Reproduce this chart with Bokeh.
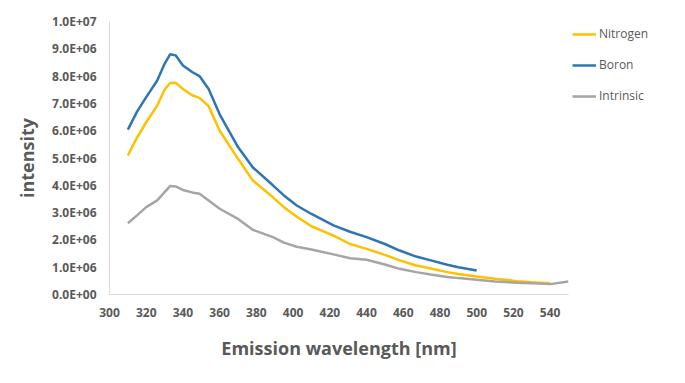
from bokeh.plotting import figure
from bokeh.models import Range1d, FixedTicker, CustomJSTickFormatter, Legend, LegendItem
from bokeh.embed import file_html
from bokeh.resources import INLINE

# Wavelength grid (nm)
wl = [310, 315, 320, 326, 330, 333, 336, 340, 345, 349, 354, 360, 370, 378, 389, 395,
      402, 410, 422, 431, 440, 450, 458, 467, 475, 484, 490, 500, 510, 522, 530, 540, 550]

# Intensities (x 1e6)
boron = [6.04, 6.7, 7.23, 7.84, 8.45, 8.8, 8.76, 8.39, 8.15, 8.0, 7.53, 6.6, 5.4, 4.66, 4.0, 3.63,
         3.26, 2.95, 2.53, 2.3, 2.1, 1.85, 1.61, 1.39, 1.25, 1.09, 1.0, 0.88]
nitrogen = [5.09, 5.75, 6.31, 6.92, 7.5, 7.75, 7.76, 7.53, 7.3, 7.2, 6.9, 6.0, 4.97, 4.18, 3.56, 3.2,
            2.85, 2.5, 2.16, 1.85, 1.67, 1.45, 1.25, 1.06, 0.95, 0.82, 0.75, 0.66, 0.58, 0.49, 0.45, 0.41]
intrinsic = [2.61, 2.9, 3.2, 3.45, 3.75, 3.97, 3.96, 3.83, 3.74, 3.69, 3.44, 3.14, 2.77, 2.37, 2.1, 1.9,
             1.75, 1.65, 1.47, 1.33, 1.27, 1.1, 0.94, 0.82, 0.73, 0.64, 0.6, 0.54, 0.48, 0.43, 0.41, 0.38, 0.48]

x_ticks = list(range(300, 541, 20))
y_ticks = [i * 1e6 for i in range(0, 11)]

FONT = "Open Sans"
GREY_TXT = "#595959"

p = figure(frame_width=459, frame_height=273, output_backend="svg", toolbar_location=None,
           x_range=Range1d(300, 550), y_range=Range1d(0, 1e7),
           min_border_left=109, min_border_right=10, min_border_top=21, min_border_bottom=64)
p.outline_line_color = None
p.xgrid.visible = False
p.ygrid.visible = False

r_n = p.line(wl[:len(nitrogen)], [v * 1e6 for v in nitrogen], line_color="#FFC000", line_width=2.5)
r_b = p.line(wl[:len(boron)], [v * 1e6 for v in boron], line_color="#2E75B6", line_width=2.5)
r_i = p.line(wl[:len(intrinsic)], [v * 1e6 for v in intrinsic], line_color="#A5A5A5", line_width=2.5)

p.xaxis.ticker = FixedTicker(ticks=x_ticks)
p.yaxis.ticker = FixedTicker(ticks=y_ticks)
p.yaxis.formatter = CustomJSTickFormatter(code="""
var parts = tick.toExponential(1).split('e');
var e = parseInt(parts[1]);
var sign = e < 0 ? '-' : '+';
var a = Math.abs(e);
return parts[0] + 'E' + sign + (a < 10 ? '0' : '') + a;
""")

for ax in (p.xaxis[0], p.yaxis[0]):
    ax.major_tick_line_color = None
    ax.minor_tick_line_color = None
    ax.axis_line_color = "#D9D9D9"
    ax.axis_line_width = 1
    ax.major_label_text_font = FONT
    ax.major_label_text_font_size = "12px"
    ax.major_label_text_color = GREY_TXT
    ax.major_label_text_font_style = "bold"
    ax.axis_label_text_font = FONT
    ax.axis_label_text_font_size = "18px"
    ax.axis_label_text_font_style = "bold"
    ax.axis_label_text_color = GREY_TXT

p.xaxis.axis_label = "Emission wavelength [nm]"
p.yaxis.axis_label = "intensity"
p.xaxis.major_label_standoff = 7
p.yaxis.major_label_standoff = 7
p.xaxis.axis_label_standoff = 16
p.yaxis.axis_label_standoff = 10

legend = Legend(items=[LegendItem(label="Nitrogen", renderers=[r_n]),
                       LegendItem(label="Boron", renderers=[r_b]),
                       LegendItem(label="Intrinsic", renderers=[r_i])],
                location="top_left")
legend.border_line_color = None
legend.background_fill_alpha = 0
legend.padding = 4
legend.margin = 4
legend.label_height = 14
legend.glyph_height = 14
legend.spacing = 14
legend.glyph_width = 24
legend.label_standoff = 3
legend.label_text_font = FONT
legend.label_text_font_size = "12px"
legend.label_text_color = GREY_TXT
p.add_layout(legend, "right")

open("out.html", "w").write(file_html(p, INLINE))
